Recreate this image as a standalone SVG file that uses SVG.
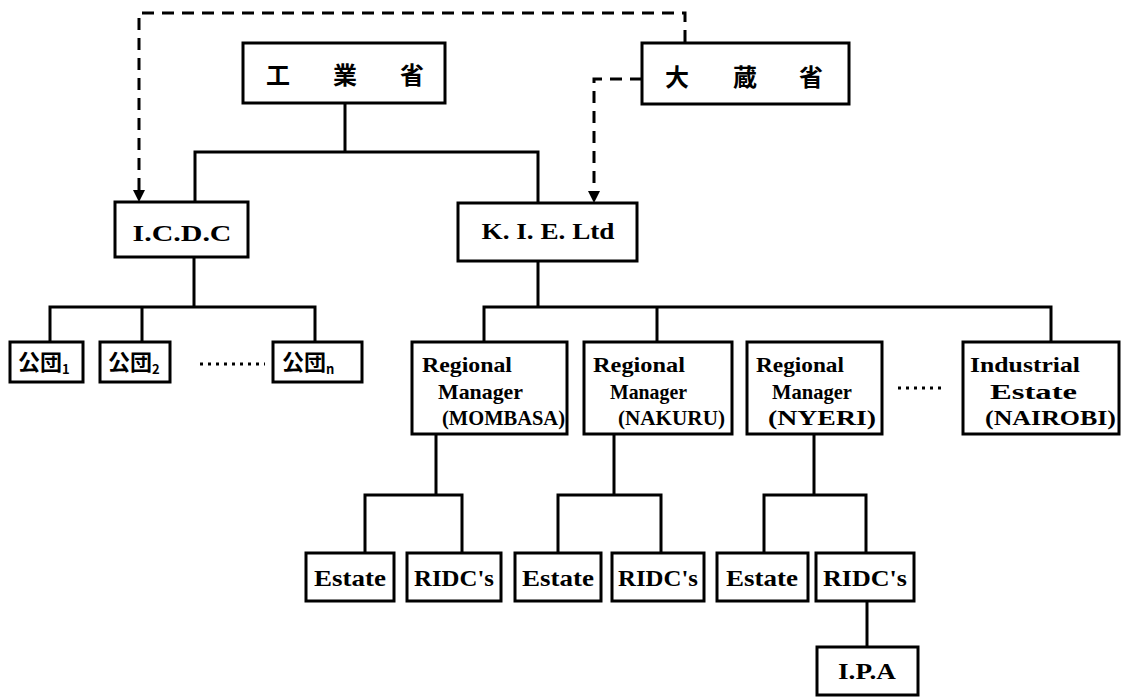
<svg xmlns="http://www.w3.org/2000/svg" width="1123" height="697" viewBox="0 0 1123 697">
<style>
.box{fill:#fff;stroke:#000;stroke-width:3}
.ln{fill:none;stroke:#000;stroke-width:3;stroke-linecap:square}
.dash{fill:none;stroke:#000;stroke-width:3;stroke-dasharray:12 8}
.dots{fill:none;stroke:#000;stroke-width:3;stroke-dasharray:3 5}
.cjk{font-family:"Noto Sans CJK JP","Noto Sans CJK SC",sans-serif;font-weight:700;fill:#000}
.lat{font-family:"Liberation Serif","Times New Roman",serif;font-weight:700;fill:#000}
.big{font-size:24px}
.mid{font-size:21px}
</style>
<defs>
<marker id="arr" markerWidth="12" markerHeight="12" refX="6" refY="10" orient="auto-start-reverse" markerUnits="userSpaceOnUse" viewBox="0 0 12 12">
<path d="M0,0 L12,0 L6,11 Z" fill="#000"/>
</marker>
</defs>
<rect width="1123" height="697" fill="#fff"/>
<g id="connectors">
<path class="dash" d="M685,42 V13 H139 V190"/>
<path d="M133,190 L145,190 L139,202 Z" fill="#000"/>
<path class="dash" d="M642,79 H594 V191"/>
<path d="M588,191 L600,191 L594,203 Z" fill="#000"/>
<path class="ln" d="M345,103 V152 M195,152 H538 M195,152 V202 M538,152 V203"/>
<path class="ln" d="M194,257 V307 M50,307 H315 M50,307 V342 M142,307 V342 M315,307 V342"/>
<path class="dots" d="M200,364 H265"/>
<path class="ln" d="M538,261 V307 M484,307 H1051 M484,307 V342 M657,307 V342 M1051,307 V342"/>
<path class="dots" d="M898,388 H945"/>
<path class="ln" d="M436,434 V495 M365,495 H462 M365,495 V553 M462,495 V553"/>
<path class="ln" d="M614,434 V495 M558,495 H661 M558,495 V553 M661,495 V553"/>
<path class="ln" d="M814,434 V495 M764,495 H866 M764,495 V553 M866,495 V553"/>
<path class="ln" d="M867,601 V647"/>
</g>
<g id="kogyosho">
<rect class="box" x="243" y="43" width="202" height="60"/>
<text class="cjk big" x="278 311 345 378 412" y="84" text-anchor="middle">工 業 省</text>
</g>
<g id="okurasho">
<rect class="box" x="642" y="43" width="207" height="61"/>
<text class="cjk big" x="677 711 745 778 811" y="86" text-anchor="middle">大 蔵 省</text>
</g>
<g id="icdc">
<rect class="box" x="115" y="202" width="133" height="55"/>
<text class="lat big" x="182" y="241" text-anchor="middle" textLength="99" lengthAdjust="spacingAndGlyphs">I.C.D.C</text>
</g>
<g id="kie">
<rect class="box" x="458" y="203" width="179" height="58"/>
<text class="lat big" x="548" y="239" text-anchor="middle" textLength="133" lengthAdjust="spacingAndGlyphs">K. I. E. Ltd</text>
</g>
<g id="kodan1">
<rect class="box" x="10" y="342" width="73" height="40"/>
<text class="cjk" font-size="22" x="18" y="370">公団<tspan font-size="13" dy="4">1</tspan></text>
</g>
<g id="kodan2">
<rect class="box" x="100" y="342" width="70" height="40"/>
<text class="cjk" font-size="22" x="108" y="370">公団<tspan font-size="13" dy="4">2</tspan></text>
</g>
<g id="kodann">
<rect class="box" x="273" y="342" width="89" height="40"/>
<text class="cjk" font-size="22" x="282" y="370">公団<tspan font-size="13" dy="4">n</tspan></text>
</g>
<g id="rm-mombasa">
<rect class="box" x="412" y="342" width="155" height="92"/>
<text class="lat mid" x="422" y="372" textLength="90" lengthAdjust="spacingAndGlyphs">Regional</text>
<text class="lat mid" x="438" y="399" textLength="85" lengthAdjust="spacingAndGlyphs">Manager</text>
<text class="lat mid" x="442" y="425" textLength="123" lengthAdjust="spacingAndGlyphs">(MOMBASA)</text>
</g>
<g id="rm-nakuru">
<rect class="box" x="584" y="342" width="148" height="92"/>
<text class="lat mid" x="593" y="372" textLength="92" lengthAdjust="spacingAndGlyphs">Regional</text>
<text class="lat mid" x="610" y="399" textLength="77" lengthAdjust="spacingAndGlyphs">Manager</text>
<text class="lat mid" x="618" y="425" textLength="107" lengthAdjust="spacingAndGlyphs">(NAKURU)</text>
</g>
<g id="rm-nyeri">
<rect class="box" x="747" y="342" width="135" height="92"/>
<text class="lat mid" x="756" y="372" textLength="88" lengthAdjust="spacingAndGlyphs">Regional</text>
<text class="lat mid" x="772" y="399" textLength="80" lengthAdjust="spacingAndGlyphs">Manager</text>
<text class="lat mid" x="768" y="425" textLength="108" lengthAdjust="spacingAndGlyphs">(NYERI)</text>
</g>
<g id="ie-nairobi">
<rect class="box" x="963" y="342" width="156" height="92"/>
<text class="lat mid" x="970" y="372" textLength="110" lengthAdjust="spacingAndGlyphs">Industrial</text>
<text class="lat mid" x="990" y="399" textLength="87" lengthAdjust="spacingAndGlyphs">Estate</text>
<text class="lat mid" x="985" y="425" textLength="131" lengthAdjust="spacingAndGlyphs">(NAIROBI)</text>
</g>
<g id="estate1">
<rect class="box" x="306" y="553" width="88" height="48"/>
<text class="lat big" x="350" y="586" text-anchor="middle" textLength="72" lengthAdjust="spacingAndGlyphs">Estate</text>
</g>
<g id="ridc1">
<rect class="box" x="407" y="553" width="94" height="48"/>
<text class="lat big" x="454" y="586" text-anchor="middle" textLength="80" lengthAdjust="spacingAndGlyphs">RIDC's</text>
</g>
<g id="estate2">
<rect class="box" x="515" y="553" width="86" height="48"/>
<text class="lat big" x="558" y="586" text-anchor="middle" textLength="72" lengthAdjust="spacingAndGlyphs">Estate</text>
</g>
<g id="ridc2">
<rect class="box" x="612" y="553" width="92" height="48"/>
<text class="lat big" x="658" y="586" text-anchor="middle" textLength="80" lengthAdjust="spacingAndGlyphs">RIDC's</text>
</g>
<g id="estate3">
<rect class="box" x="717" y="553" width="91" height="48"/>
<text class="lat big" x="762" y="586" text-anchor="middle" textLength="72" lengthAdjust="spacingAndGlyphs">Estate</text>
</g>
<g id="ridc3">
<rect class="box" x="816" y="553" width="98" height="48"/>
<text class="lat big" x="865" y="586" text-anchor="middle" textLength="84" lengthAdjust="spacingAndGlyphs">RIDC's</text>
</g>
<g id="ipa">
<rect class="box" x="817" y="647" width="101" height="48"/>
<text class="lat big" x="867" y="679" text-anchor="middle" textLength="58" lengthAdjust="spacingAndGlyphs">I.P.A</text>
</g>
</svg>
